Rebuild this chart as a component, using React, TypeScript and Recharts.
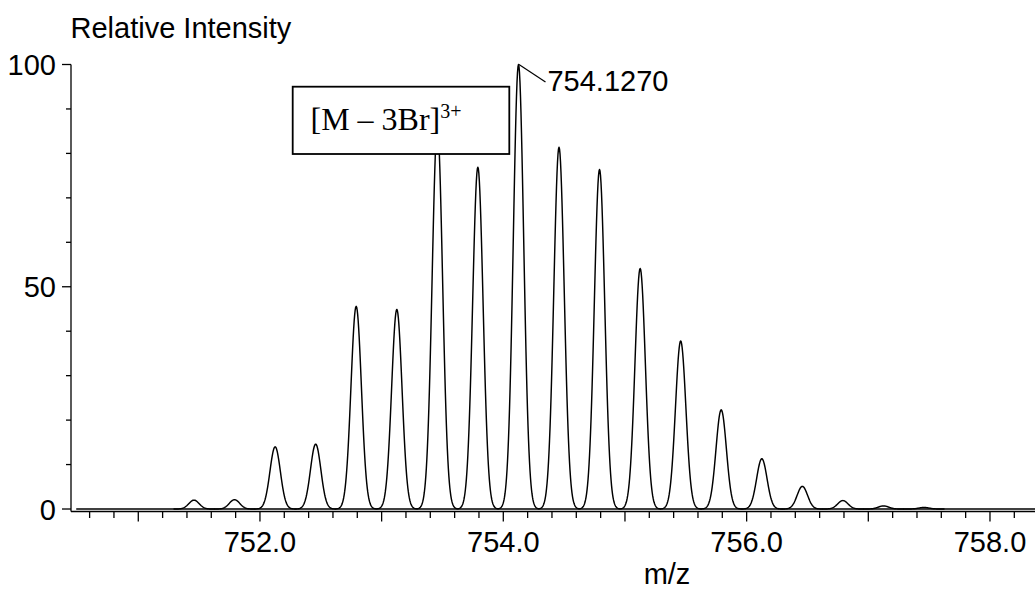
import React from "react";
import { ComposedChart, Bar, XAxis, YAxis, ReferenceLine } from "recharts";

// Isotope cluster of the [M – 3Br]3+ ion: centroid m/z and relative intensity (%)
const peakMz = [
  751.46, 751.793, 752.127, 752.46, 752.793, 753.127, 753.46, 753.793, 754.127,
  754.46, 754.793, 755.127, 755.46, 755.793, 756.127, 756.46, 756.793, 757.127, 757.46,
];
const peakIntensity = [
  2.0, 2.1, 14.0, 14.6, 45.6, 44.9, 86.0, 76.9, 100.0,
  81.4, 76.4, 54.1, 37.8, 22.3, 11.3, 5.1, 1.9, 0.7, 0.35,
];
const basePeakMz = 754.127;

// Acquired scan window (baseline trace) and axis ranges
const scanRange = [750.49, 758.37];
const xDomain = [750.447, 758.37];
const yDomain = [-0.56, 100];

// Axis ticks
const xLabelTicks = [752, 754, 756, 758];
const xLabelText = ["752.0", "754.0", "756.0", "758.0"];
const xMidTicks = [751, 753, 755, 757];
const xMinorTicks = Array.from({ length: 39 }, (_, i) => Math.round((750.6 + 0.2 * i) * 10) / 10);
const yLabelTicks = [0, 50, 100];
const yLabelText = ["0", "50", "100"];
const yMinorTicks = [0, 10, 20, 30, 40, 50, 60, 70, 80, 90, 100];

const axisTitleY = "Relative Intensity";
const axisTitleX = "m/z";
const ionLabel = "[M – 3Br]";
const ionCharge = "3+";

const data = peakMz.map((mz, i) => ({ mz, intensity: peakIntensity[i] }));

const SANS = "'Liberation Sans', Arial, sans-serif";
const SERIF = "'Liberation Serif', 'Times New Roman', serif";
const FONT_SIZE = 29;
const INK = "#000";
const PEAK_SIGMA_PX = 5.2;
const PEAK_HALF_SPAN_PX = 20.5;

const near = (a: number, b: number) => Math.abs(a - b) < 1e-6;

// Each centroid is drawn as a gaussian profile rising from the zero line
const PeakShape = (props: any) => {
  const { x, y, width, height, payload } = props;
  if (x == null || y == null) return null;
  const cx = x + width / 2;
  const base = y + height;
  const h = height;
  let d = "";
  for (let t = -PEAK_HALF_SPAN_PX; t <= PEAK_HALF_SPAN_PX + 1e-9; t += 0.5) {
    const yy = base - h * Math.exp(-(t * t) / (2 * PEAK_SIGMA_PX * PEAK_SIGMA_PX));
    d += (d ? "L" : "M") + (cx + t).toFixed(2) + "," + yy.toFixed(2);
  }
  const isBase = near(payload.mz, basePeakMz);
  return (
    <g>
      <path d={d} fill="none" stroke={INK} strokeWidth={1.45} strokeLinejoin="round" />
      {isBase && (
        <g>
          <line x1={cx + 0.5} y1={y} x2={cx + 27} y2={y + 17.5} stroke={INK} strokeWidth={1.2} />
          <text x={cx + 29} y={y + 26.2} fontFamily={SANS} fontSize={FONT_SIZE} fill={INK}>
            {payload.mz.toFixed(4)}
          </text>
        </g>
      )}
    </g>
  );
};

const XTick = (props: any) => {
  const { x, y, payload } = props;
  const v = payload.value;
  const li = xLabelTicks.findIndex((t) => near(t, v));
  const mid = xMidTicks.some((t) => near(t, v));
  const len = li >= 0 || mid ? 10 : 6.5;
  return (
    <g>
      <line x1={x} x2={x} y1={y} y2={y + len} stroke={INK} strokeWidth={1.3} />
      {li >= 0 && (
        <text x={x} y={y + 40.5} textAnchor="middle" fontFamily={SANS} fontSize={FONT_SIZE} fill={INK}>
          {xLabelText[li]}
        </text>
      )}
    </g>
  );
};

const YTick = (props: any) => {
  const { x, y, payload } = props;
  const v = payload.value;
  const li = yLabelTicks.findIndex((t) => near(t, v));
  const len = li >= 0 ? 9 : 5;
  return (
    <g>
      <line x1={x - len} x2={x} y1={y} y2={y} stroke={INK} strokeWidth={1.3} />
      {li >= 0 && (
        <text x={x - 15} y={y + 10.7} textAnchor="end" fontFamily={SANS} fontSize={FONT_SIZE} fill={INK}>
          {yLabelText[li]}
        </text>
      )}
    </g>
  );
};

export default function App() {
  return (
    <div style={{ position: "absolute", left: 0, top: 0, width: 1035, height: 589, background: "#fff" }}>
      <ComposedChart
        width={1035}
        height={589}
        data={data}
        margin={{ top: 64.5, right: 0, bottom: 0, left: 0 }}
      >
        <XAxis
          dataKey="mz"
          type="number"
          domain={xDomain}
          ticks={xMinorTicks}
          interval={0}
          height={77.5}
          tickSize={0}
          tickMargin={0}
          tickLine={false}
          axisLine={{ stroke: INK, strokeWidth: 1.3 }}
          tick={(p: any) => <XTick {...p} />}
        />
        <YAxis
          type="number"
          domain={yDomain}
          ticks={yMinorTicks}
          interval={0}
          width={71}
          tickSize={0}
          tickMargin={0}
          tickLine={false}
          axisLine={{ stroke: INK, strokeWidth: 1.3 }}
          tick={(p: any) => <YTick {...p} />}
        />
        <ReferenceLine
          segment={[
            { x: scanRange[0], y: 0 },
            { x: scanRange[1], y: 0 },
          ]}
          stroke={INK}
          strokeWidth={1.3}
        />
        <Bar dataKey="intensity" barSize={40} shape={PeakShape} isAnimationActive={false} />
      </ComposedChart>
      <svg
        width={1035}
        height={589}
        style={{ position: "absolute", left: 0, top: 0, pointerEvents: "none" }}
      >
        <text x={70.5} y={37.5} fontFamily={SANS} fontSize={FONT_SIZE} fill={INK}>
          {axisTitleY}
        </text>
        <text x={667} y={584} textAnchor="middle" fontFamily={SANS} fontSize={FONT_SIZE} fill={INK}>
          {axisTitleX}
        </text>
        <rect x={292.7} y={86.7} width={216.6} height={67.3} fill="#fff" stroke={INK} strokeWidth={1.8} />
        <text x={310.5} y={130} fontFamily={SERIF} fontSize={32} fill={INK}>
          {ionLabel}
          <tspan dy={-12.5} fontSize={20}>
            {ionCharge}
          </tspan>
        </text>
      </svg>
    </div>
  );
}
